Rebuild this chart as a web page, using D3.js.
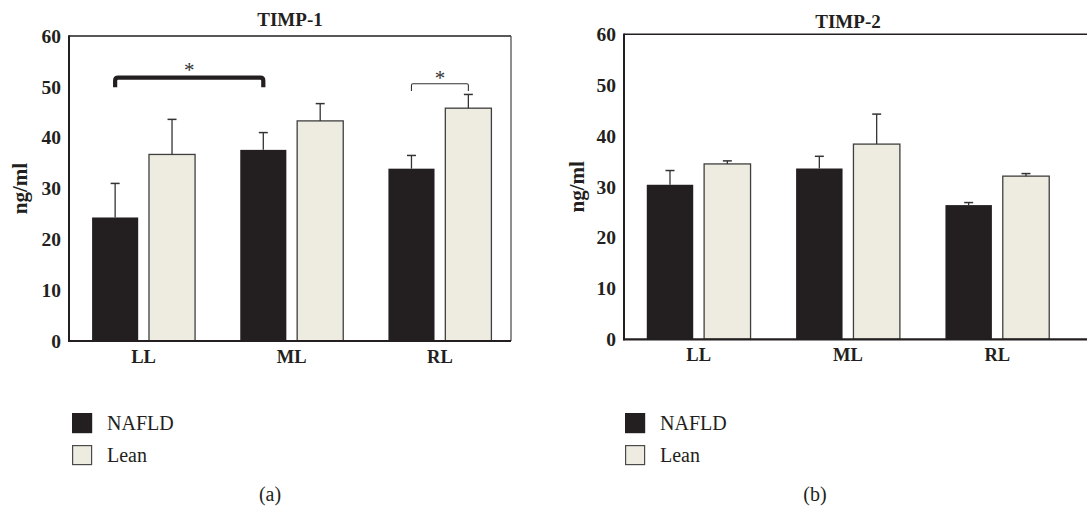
<!DOCTYPE html>
<html>
<head>
<meta charset="utf-8">
<script src="https://cdn.jsdelivr.net/npm/d3@7"></script>
<style>
  body { margin: 0; background: #fff; }
  svg { display: block; font-family: "Liberation Serif", "Times New Roman", serif; }
</style>
</head>
<body>
<div id="chart"></div>
<script>
// lobes and groups
var lobes = ["LL", "ML", "RL"];
var groups = ["NAFLD", "Lean"];
var yTicks = [0, 10, 20, 30, 40, 50, 60];

// TIMP-1 (ng/ml), mean and upper error
var timp1Nafld = [24.3, 37.6, 33.9];
var timp1NafldErr = [6.7, 3.4, 2.6];
var timp1Lean = [36.7, 43.3, 45.8];
var timp1LeanErr = [6.9, 3.4, 2.7];

// TIMP-2 (ng/ml)
var timp2Nafld = [30.4, 33.6, 26.4];
var timp2NafldErr = [2.8, 2.4, 0.5];
var timp2Lean = [34.5, 38.4, 32.1];
var timp2LeanErr = [0.6, 5.9, 0.5];

// significance brackets on TIMP-1: [lobe, group] to [lobe, group], bracket level, leg end, star level
var timp1Brackets = [
  { from: [0, 0], to: [1, 0], level: 51.8, leg: 49.9, star: 54.0 },
  { from: [2, 0], to: [2, 1], level: 50.6, leg: 49.2, star: 52.4 }
];

var colors = { NAFLD: "#231f20", Lean: "#eeebe0" };
var ink = "#231f20";

var svg = d3.select("#chart").append("svg")
  .attr("width", 1087)
  .attr("height", 508);

svg.append("rect").attr("width", 1087).attr("height", 508).attr("fill", "#fff");

function toRows(nafld, nafldErr, lean, leanErr) {
  return lobes.map(function (l, i) {
    return {
      lobe: l,
      values: [
        { group: "NAFLD", mean: nafld[i], err: nafldErr[i] },
        { group: "Lean", mean: lean[i], err: leanErr[i] }
      ]
    };
  });
}

function drawPanel(opt) {
  var g = svg.append("g");

  var y = d3.scaleLinear().domain([0, 60]).range([opt.bottom, opt.top]);

  var x0 = d3.scaleBand()
    .domain(lobes)
    .range(opt.band)
    .paddingInner(0.305)
    .paddingOuter(0.1525);

  var x1 = d3.scaleBand()
    .domain(groups)
    .range([0, x0.bandwidth()])
    .paddingInner(0.19);

  // title
  g.append("text")
    .attr("x", opt.titleX)
    .attr("y", opt.titleY)
    .attr("text-anchor", "middle")
    .attr("font-weight", "bold")
    .attr("font-size", 19)
    .attr("fill", ink)
    .text(opt.title);

  // bars
  var lobeG = g.selectAll(".lobe")
    .data(opt.rows)
    .enter().append("g")
    .attr("transform", function (d) { return "translate(" + x0(d.lobe) + ",0)"; });

  lobeG.selectAll("rect")
    .data(function (d) { return d.values; })
    .enter().append("rect")
    .attr("x", function (d) { return x1(d.group); })
    .attr("y", function (d) { return y(d.mean); })
    .attr("width", x1.bandwidth())
    .attr("height", function (d) { return y(0) - y(d.mean); })
    .attr("fill", function (d) { return colors[d.group]; })
    .attr("stroke", function (d) { return d.group === "Lean" ? "#3f3f3f" : "none"; })
    .attr("stroke-width", 1.3);

  // error bars (upper only)
  var err = lobeG.selectAll(".err")
    .data(function (d) { return d.values; })
    .enter().append("g");

  err.append("line")
    .attr("x1", function (d) { return x1(d.group) + x1.bandwidth() / 2; })
    .attr("x2", function (d) { return x1(d.group) + x1.bandwidth() / 2; })
    .attr("y1", function (d) { return y(d.mean); })
    .attr("y2", function (d) { return y(d.mean + d.err); })
    .attr("stroke", "#333")
    .attr("stroke-width", 1.3);

  err.append("line")
    .attr("x1", function (d) { return x1(d.group) + x1.bandwidth() / 2 - 4.5; })
    .attr("x2", function (d) { return x1(d.group) + x1.bandwidth() / 2 + 4.5; })
    .attr("y1", function (d) { return y(d.mean + d.err); })
    .attr("y2", function (d) { return y(d.mean + d.err); })
    .attr("stroke", "#333")
    .attr("stroke-width", 1.5);

  // frame: thin top/right, heavy left/bottom
  g.append("line")
    .attr("x1", opt.left).attr("x2", opt.right)
    .attr("y1", opt.top).attr("y2", opt.top)
    .attr("stroke", ink).attr("stroke-width", 1.4);
  g.append("line")
    .attr("x1", opt.right).attr("x2", opt.right)
    .attr("y1", opt.top).attr("y2", opt.bottom)
    .attr("stroke", "#444").attr("stroke-width", 1.2);
  g.append("line")
    .attr("x1", opt.left).attr("x2", opt.left)
    .attr("y1", opt.top - 0.7).attr("y2", opt.bottom + 1)
    .attr("stroke", ink).attr("stroke-width", 2);
  g.append("line")
    .attr("x1", opt.left - 1).attr("x2", opt.right)
    .attr("y1", opt.bottom).attr("y2", opt.bottom)
    .attr("stroke", ink).attr("stroke-width", 2.2);

  // axes
  var yAxis = g.append("g")
    .attr("transform", "translate(" + opt.left + ",0)")
    .call(d3.axisLeft(y).tickValues(yTicks).tickSize(0).tickPadding(8));
  yAxis.select(".domain").remove();
  yAxis.selectAll("text")
    .attr("font-family", "Liberation Serif, serif")
    .attr("font-size", 19.5)
    .attr("font-weight", "bold")
    .attr("fill", ink);

  var xAxis = g.append("g")
    .attr("transform", "translate(0," + opt.bottom + ")")
    .call(d3.axisBottom(x0).tickSize(0).tickPadding(9));
  xAxis.select(".domain").remove();
  xAxis.selectAll("text")
    .attr("font-family", "Liberation Serif, serif")
    .attr("font-size", 18.5)
    .attr("font-weight", "bold")
    .attr("fill", ink);

  g.append("text")
    .attr("transform", "translate(" + opt.labelX + "," + ((opt.top + opt.bottom) / 2) + ") rotate(-90)")
    .attr("text-anchor", "middle")
    .attr("dy", "0.35em")
    .attr("font-weight", "bold")
    .attr("font-size", 21)
    .attr("fill", ink)
    .text("ng/ml");

  // significance brackets
  var cx = function (p) {
    return x0(lobes[p[0]]) + x1(groups[p[1]]) + x1.bandwidth() / 2;
  };
  (opt.brackets || []).forEach(function (b, i) {
    var xa = cx(b.from), xb = cx(b.to);
    var heavy = i === 0;
    var r = heavy ? 3 : 1.5;
    var yl = y(b.level), yg = y(b.leg);
    g.append("path")
      .attr("d", "M" + xa + "," + yg + " L" + xa + "," + (yl + r) +
        " Q" + xa + "," + yl + " " + (xa + r) + "," + yl +
        " L" + (xb - r) + "," + yl +
        " Q" + xb + "," + yl + " " + xb + "," + (yl + r) +
        " L" + xb + "," + yg)
      .attr("fill", "none")
      .attr("stroke", heavy ? ink : "#333")
      .attr("stroke-width", heavy ? 4.2 : 1.1);
    g.append("text")
      .attr("x", (xa + xb) / 2)
      .attr("y", y(b.star))
      .attr("dy", "0.48em")
      .attr("text-anchor", "middle")
      .attr("font-size", 21)
      .attr("fill", "#333")
      .text("*");
  });

  // legend
  var leg = g.selectAll(".leg")
    .data(groups)
    .enter().append("g")
    .attr("transform", function (d, i) { return "translate(" + opt.legendX + "," + (413 + i * 32) + ")"; });
  leg.append("rect")
    .attr("x", 0.6).attr("y", 0.6)
    .attr("width", 19).attr("height", 19)
    .attr("fill", function (d) { return colors[d]; })
    .attr("stroke", function (d) { return d === "Lean" ? "#4a4a4a" : colors[d]; })
    .attr("stroke-width", 1.2);
  leg.append("text")
    .attr("x", 35)
    .attr("y", 17)
    .attr("font-size", 20)
    .attr("fill", ink)
    .text(function (d) { return d; });

  g.append("text")
    .attr("x", opt.captionX)
    .attr("y", 501)
    .attr("text-anchor", "middle")
    .attr("font-size", 20)
    .attr("fill", ink)
    .text(opt.caption);
}

drawPanel({
  title: "TIMP-1", titleX: 290, titleY: 26,
  rows: toRows(timp1Nafld, timp1NafldErr, timp1Lean, timp1LeanErr),
  left: 69, right: 511, top: 36, bottom: 341,
  band: [69.5, 514],
  labelX: 20, legendX: 72, captionX: 270, caption: "(a)",
  brackets: timp1Brackets
});

drawPanel({
  title: "TIMP-2", titleX: 848, titleY: 28,
  rows: toRows(timp2Nafld, timp2NafldErr, timp2Lean, timp2LeanErr),
  left: 624, right: 1100, top: 34.3, bottom: 339.3,
  band: [624, 1072],
  labelX: 577, legendX: 625, captionX: 815, caption: "(b)",
  brackets: []
});
</script>
</body>
</html>
